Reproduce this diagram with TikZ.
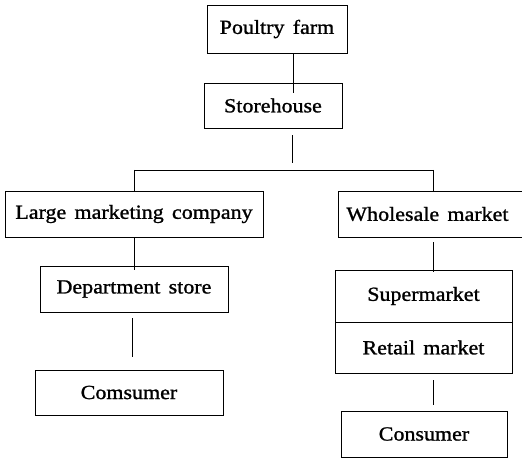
\documentclass[tikz,border=0pt]{standalone}
\usepackage{fontspec}
\setmainfont{Liberation Serif}[FakeStretch=1.1, WordSpace=1.5, FakeBold=1.2]
\begin{document}
\begin{tikzpicture}[x=1pt,y=1pt,
  box/.style={draw, line width=0.9pt, inner sep=0pt, font=\fontsize{20}{24}\selectfont},
  conn/.style={line width=0.9pt}]
\useasboundingbox (0,0) rectangle (522,460);
\node[box, minimum width=140pt, minimum height=48pt] (P) at (277,431) {Poultry farm};
\node[box, minimum width=138pt, minimum height=45pt] (S) at (273,354.5) {Storehouse};
\node[box, minimum width=258pt, minimum height=46pt] (L) at (134,246) {Large marketing company};
\node[box, minimum width=192pt, minimum height=46pt, anchor=west] (W) at (338,246) {\hspace*{-14pt}Wholesale market};
\node[box, minimum width=188pt, minimum height=46pt] (D) at (134,171) {Department store};
\node[box, minimum width=188pt, minimum height=45pt] (C1) at (129,67.5) {Comsumer};
\node[box, minimum width=177pt, minimum height=52pt] (Su) at (423.5,164) {Supermarket};
\node[box, minimum width=177pt, minimum height=51pt] (R) at (423.5,112.5) {Retail market};
\node[box, minimum width=166pt, minimum height=46pt] (C2) at (424,26) {Consumer};
\coordinate (jt) at (292,297);
\coordinate (jl) at (134,290);
\coordinate (jr) at (433,290);
% connectors
\draw[conn, shorten >=-10pt] ([xshift=16pt]P.south) -- ([xshift=16pt]P.south |- S.north);
\draw[conn, shorten <=7pt] (S.south -| jt) -- (jt);
\draw[conn] (jl) -- (jr);
\draw[conn] (jl) -- (L.north -| jl);
\draw[conn] (jr) -- (W.north -| jr);
\draw[conn, shorten >=-4pt] (L.south) -- (D.north);
\draw[conn, shorten <=6pt, shorten >=13pt] ([xshift=-2pt]D.south) -- ([xshift=-2pt]D.south |- C1.north);
\draw[conn, shorten <=5pt, shorten >=-2pt] (W.south -| jr) -- (Su.north -| jr);
\draw[conn, shorten <=7pt, shorten >=6pt] (R.south -| jr) -- (C2.north -| jr);
\end{tikzpicture}
\end{document}
